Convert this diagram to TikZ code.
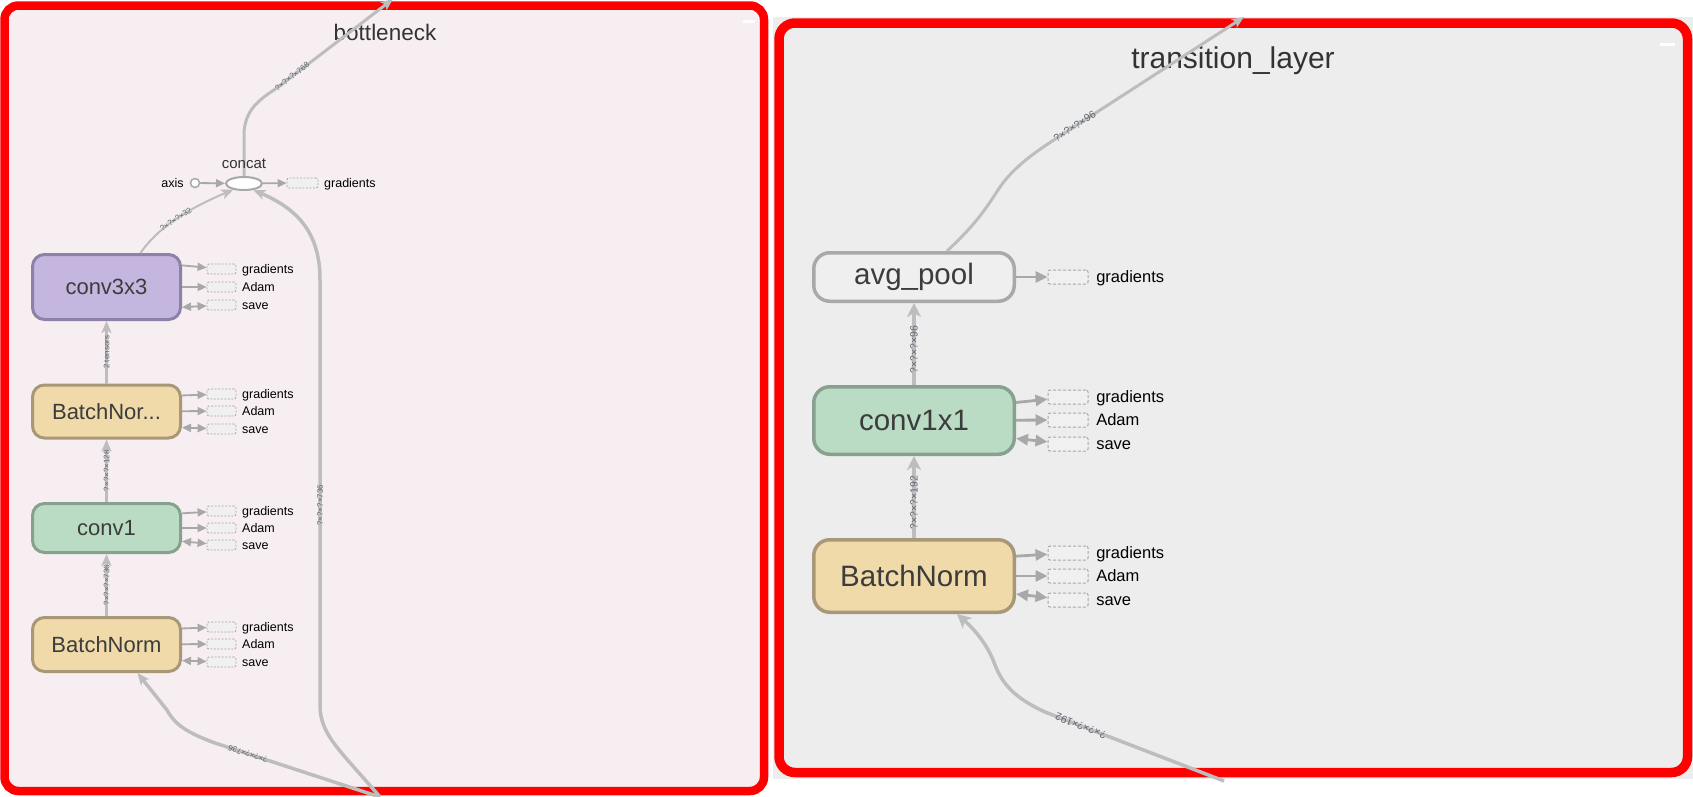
\documentclass[tikz,border=0pt]{standalone}
\usepackage{fontspec}
\setmainfont{Liberation Sans}
\usetikzlibrary{arrows.meta}
\usetikzlibrary{shapes.geometric}

\definecolor{panelred}{HTML}{FF0000}
\definecolor{pinkbg}{HTML}{F6EEF1}
\definecolor{greybg}{HTML}{EDEDED}
\definecolor{edgegrey}{HTML}{BDBDBD}
\definecolor{sidegrey}{HTML}{A8A8A8}
\definecolor{auxfill}{HTML}{F0F0F0}
\definecolor{labelgrey}{HTML}{5F6670}
\definecolor{nodetext}{HTML}{3C3C3C}
\definecolor{titletext}{HTML}{333333}
\definecolor{convfill}{HTML}{BADCC4}
\definecolor{convdraw}{HTML}{88A08E}
\definecolor{bnfill}{HTML}{F0DAA9}
\definecolor{bndraw}{HTML}{A99878}
\definecolor{cthreefill}{HTML}{C5B6E0}
\definecolor{cthreedraw}{HTML}{8D81A8}
\definecolor{poolfill}{HTML}{EFEFEF}
\definecolor{pooldraw}{HTML}{A9A9A9}

\begin{document}
\begin{tikzpicture}[x=1pt, y=-1pt,
  op/.style={rectangle, rounded corners=12pt, line width=3pt, inner sep=0pt, minimum width=148pt, text=nodetext, font=\fontsize{22}{26}\selectfont},
  bigop/.style={op, rounded corners=16pt, line width=3.5pt, minimum width=200.5pt, font=\fontsize{29.5}{34}\selectfont},
  convop/.style={fill=convfill, draw=convdraw},
  bnop/.style={fill=bnfill, draw=bndraw},
  c3op/.style={fill=cthreefill, draw=cthreedraw},
  poolop/.style={fill=poolfill, draw=pooldraw},
  aux/.style={rectangle, rounded corners=2pt, draw=sidegrey, fill=auxfill, line width=0.8pt, dash pattern=on 2pt off 1.5pt, minimum width=29pt, minimum height=10pt, inner sep=0pt},
  bigaux/.style={aux, minimum width=40pt, minimum height=14pt, line width=1pt, dash pattern=on 3pt off 2pt},
  auxlab/.style={anchor=west, inner sep=0pt, text height=9.5pt, text depth=0.7pt, font=\fontsize{12.5}{14}\selectfont},
  bigauxlab/.style={auxlab, text height=12.5pt, text depth=1pt, font=\fontsize{16.5}{19}\selectfont},
  flow/.style={draw=edgegrey, line width=2.5pt, -{Stealth[length=12pt,width=10pt,inset=3pt]}},
  bigflow/.style={flow, line width=3.5pt, -{Stealth[length=14pt,width=14pt,inset=4pt]}},
  auxarrow/.style={draw=sidegrey, line width=1.8pt, -{Triangle[length=9pt,width=8pt]}},
  auxboth/.style={auxarrow, {Triangle[length=9pt,width=8pt]}-{Triangle[length=9pt,width=8pt]}},
  bigauxarrow/.style={draw=sidegrey, line width=2.8pt, -{Triangle[length=12pt,width=11pt]}},
  bigauxboth/.style={bigauxarrow, {Triangle[length=12pt,width=11pt]}-{Triangle[length=12pt,width=11pt]}},
  edgelab/.style={sloped, inner sep=0pt, text=labelgrey, font=\fontsize{8}{9}\selectfont},
  bigedgelab/.style={edgelab, font=\fontsize{10.5}{12}\selectfont},
  paneltitle/.style={anchor=base, inner sep=0pt, text=titletext, font=\fontsize{22.5}{26}\selectfont}]

      \useasboundingbox (0,0) rectangle (1693,796);

      % the two panels
      \fill[greybg] (773,17) rectangle (1693,779);
      \draw[panelred, line width=8.5pt, fill=pinkbg, rounded corners=14pt] (4.5,5.5) rectangle (764,791);
      \draw[panelred, line width=9.5pt, fill=greybg, rounded corners=16pt] (779,23) rectangle (1687.5,772.5);
      \fill[white] (743,20) rectangle (755,23);
      \fill[white] (1660,43) rectangle (1675,46);

      \node[paneltitle] (bntitle) at (385,40) {bottleneck};
      \node[paneltitle, font=\fontsize{30}{34}\selectfont] (tltitle) at (1233,68) {transition\_layer};

      % bottleneck
      \node[op, c3op, minimum height=65pt] (conv3x3) at (106.5,287) {conv3x3};
      \node[op, bnop, minimum height=53pt] (bnB) at (106.5,411.5) {BatchNor...};
      \node[op, convop, minimum height=49pt] (conv1) at (106.5,528) {conv1};
      \node[op, bnop, minimum height=54pt] (bnA) at (106.5,644.5) {BatchNorm};

      \node[ellipse, draw=sidegrey, fill=white, line width=2pt, minimum width=36pt, minimum height=13pt, inner sep=0pt] (concat) at (244,183.5) {};
      \node[circle, draw=sidegrey, fill=white, line width=1.5pt, minimum size=9pt, inner sep=0pt] (axis) at (195,183) {};
      \node[auxlab, anchor=east] (axist) at ([xshift=-6pt]axis.west) {axis};
      \node[aux, minimum width=31pt] (concatg) at (302.5,183) {}; \node[auxlab] (concatgt) at ([xshift=5.6pt]concatg.east) {gradients};

      \node[aux] (conv3x3g) at (221.5,269) {}; \node[auxlab] (conv3x3gt) at ([xshift=5.6pt]conv3x3g.east) {gradients};
      \node[aux] (conv3x3a) at (221.5,287) {}; \node[auxlab] (conv3x3at) at ([xshift=5.6pt]conv3x3a.east) {Adam};
      \node[aux] (conv3x3s) at (221.5,305) {}; \node[auxlab] (conv3x3st) at ([xshift=5.6pt]conv3x3s.east) {save};

      \node[aux] (bnBg) at (221.5,394) {}; \node[auxlab] (bnBgt) at ([xshift=5.6pt]bnBg.east) {gradients};
      \node[aux] (bnBa) at (221.5,411) {}; \node[auxlab] (bnBat) at ([xshift=5.6pt]bnBa.east) {Adam};
      \node[aux] (bnBs) at (221.5,429) {}; \node[auxlab] (bnBst) at ([xshift=5.6pt]bnBs.east) {save};

      \node[aux] (conv1g) at (221.5,511) {}; \node[auxlab] (conv1gt) at ([xshift=5.6pt]conv1g.east) {gradients};
      \node[aux] (conv1a) at (221.5,528) {}; \node[auxlab] (conv1at) at ([xshift=5.6pt]conv1a.east) {Adam};
      \node[aux] (conv1s) at (221.5,545) {}; \node[auxlab] (conv1st) at ([xshift=5.6pt]conv1s.east) {save};

      \node[aux] (bnAg) at (221.5,627) {}; \node[auxlab] (bnAgt) at ([xshift=5.6pt]bnAg.east) {gradients};
      \node[aux] (bnAa) at (221.5,644) {}; \node[auxlab] (bnAat) at ([xshift=5.6pt]bnAa.east) {Adam};
      \node[aux] (bnAs) at (221.5,662) {}; \node[auxlab] (bnAst) at ([xshift=5.6pt]bnAs.east) {save};

      \draw[auxarrow] (axis) -- (concat);
      \draw[auxarrow] (concat) -- (concatg);
      \draw[auxarrow] (conv3x3.16) -- (conv3x3g);
      \draw[auxarrow] (conv3x3) -- (conv3x3a);
      \draw[auxboth] (conv3x3.-15) -- (conv3x3s);
      \draw[auxarrow] (bnB.12) -- (bnBg);
      \draw[auxarrow] (bnB) -- (bnBa);
      \draw[auxboth] (bnB.-12) -- (bnBs);
      \draw[auxarrow] (conv1.11) -- (conv1g);
      \draw[auxarrow] (conv1) -- (conv1a);
      \draw[auxboth] (conv1.-10) -- (conv1s);
      \draw[auxarrow] (bnA.12) -- (bnAg);
      \draw[auxarrow] (bnA) -- (bnAa);
      \draw[auxboth] (bnA.-12) -- (bnAs);

      \coordinate (bnin) at (380,797);
      \coordinate (bnout) at (393,-1);
      \draw[flow] (bnA) -- (conv1) node[edgelab, midway] {?×?×?×736};
      \draw[flow] (conv1) -- (bnB) node[edgelab, midway] {?×?×?×128};
      \draw[flow] (bnB) -- (conv3x3) node[edgelab, midway] {2 tensors};
      \draw[flow, line width=2pt] ([xshift=34pt]conv3x3.north) .. controls (152,236) and (175,214) .. (concat.210) node[edgelab, pos=0.57] {?×?×?×32};
      \draw[flow, line width=3pt] (concat.north) -- (244,135) .. controls (244,110) and (260,99) .. (277,88) -- (bnout) node[edgelab, pos=0.13] {?×?×?×768};
      \draw[flow, line width=3.5pt] (bnin) .. controls (340,750) and (320,735) .. (320,705) -- (320,280) node[edgelab, pos=0.47] {?×?×?×736} .. controls (320,235) and (300,210) .. (concat.-35);
      \draw[flow, line width=3.5pt] (bnin) -- (215,743) node[edgelab, pos=0.8, allow upside down] {?×?×?×736} .. controls (188,733) and (175,725) .. (167,710) -- ([xshift=31pt]bnA.south);
      \node[anchor=base, inner sep=0pt, text=titletext, font=\fontsize{15}{17}\selectfont] (concatt) at (244,168) {concat};

      % transition_layer
      \node[bigop, poolop, minimum height=48.5pt] (avgpool) at (914,277) {avg\_pool};
      \node[bigop, convop, minimum height=67.5pt] (conv1x1) at (914,420.5) {conv1x1};
      \node[bigop, bnop, minimum height=72.5pt] (bnT) at (914,576) {BatchNorm};

      \node[bigaux] (avgpoolg) at (1068,277) {}; \node[bigauxlab] (avgpoolgt) at ([xshift=7.6pt]avgpoolg.east) {gradients};

      \node[bigaux] (conv1x1g) at (1068,397) {}; \node[bigauxlab] (conv1x1gt) at ([xshift=7.6pt]conv1x1g.east) {gradients};
      \node[bigaux] (conv1x1a) at (1068,420) {}; \node[bigauxlab] (conv1x1at) at ([xshift=7.6pt]conv1x1a.east) {Adam};
      \node[bigaux] (conv1x1s) at (1068,444) {}; \node[bigauxlab] (conv1x1st) at ([xshift=7.6pt]conv1x1s.east) {save};

      \node[bigaux] (bnTg) at (1068,553) {}; \node[bigauxlab] (bnTgt) at ([xshift=7.6pt]bnTg.east) {gradients};
      \node[bigaux] (bnTa) at (1068,576) {}; \node[bigauxlab] (bnTat) at ([xshift=7.6pt]bnTa.east) {Adam};
      \node[bigaux] (bnTs) at (1068,600) {}; \node[bigauxlab] (bnTst) at ([xshift=7.6pt]bnTs.east) {save};

      \draw[bigauxarrow] (avgpool) -- (avgpoolg);
      \draw[bigauxarrow] (conv1x1.10) -- (conv1x1g);
      \draw[bigauxarrow] (conv1x1) -- (conv1x1a);
      \draw[bigauxboth] (conv1x1.-10) -- (conv1x1s);
      \draw[bigauxarrow] (bnT.11) -- (bnTg);
      \draw[bigauxarrow] (bnT) -- (bnTa);
      \draw[bigauxboth] (bnT.-10.5) -- (bnTs);

      \coordinate (tlin) at (1224,781);
      \coordinate (tlout) at (1244,17);
      \draw[bigflow] (bnT) -- (conv1x1) node[bigedgelab, pos=0.43] {?×?×?×192};
      \draw[bigflow] (conv1x1) -- (avgpool) node[bigedgelab, pos=0.43] {?×?×?×96};
      \draw[flow, line width=3pt] ([xshift=33pt]avgpool.north) .. controls (975,225) and (985,210) .. (998,190) .. controls (1012,168) and (1035,152) .. (1060,136) -- (tlout) node[bigedgelab, pos=0.08] {?×?×?×96};
      \draw[bigflow] (tlin) -- (1045,712) node[bigedgelab, pos=0.8, allow upside down] {?×?×?×192} .. controls (1015,698) and (1003,685) .. (995,665) .. controls (988,645) and (975,630) .. ([xshift=43pt]bnT.south);

\end{tikzpicture}
\end{document}
